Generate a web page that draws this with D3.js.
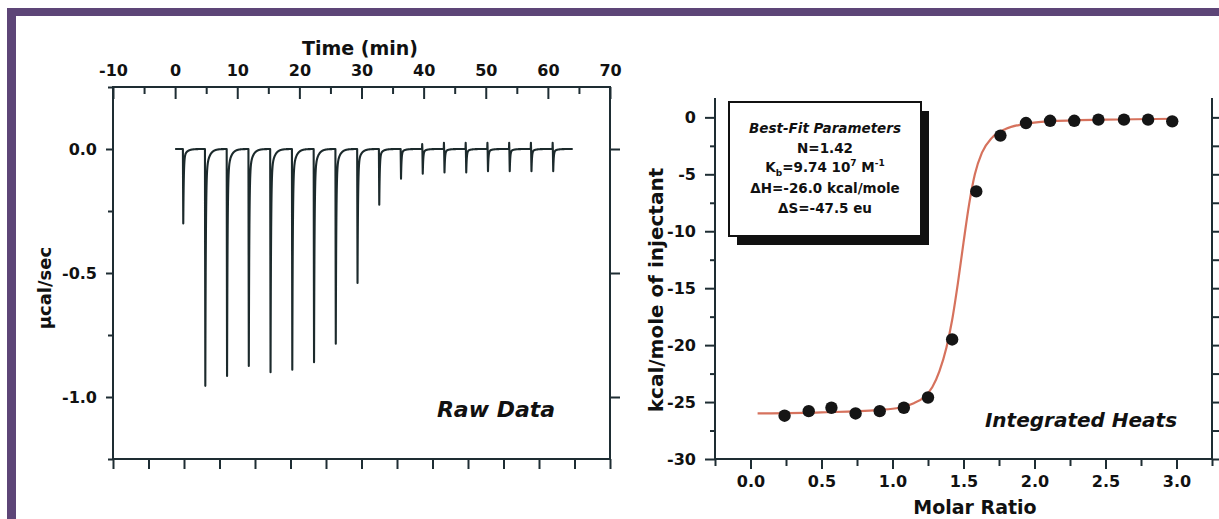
<!DOCTYPE html>
<html>
<head>
<meta charset="utf-8">
<script src="https://cdn.jsdelivr.net/npm/d3@7/dist/d3.min.js"></script>
<style>
  body { margin: 0; background: #fff; }
  svg { display: block; font-family: "DejaVu Sans", sans-serif; font-weight: bold; }
</style>
</head>
<body>
<svg id="chart" width="1219" height="519"></svg>
<script>
// ---------- data ----------
// raw data: injection times (min), peak depth (ucal/sec), small up-blip before each injection
var injTimes = [1.25, 4.8, 8.3, 11.8, 15.3, 18.8, 22.3, 25.8, 29.3, 32.8, 36.3, 39.8, 43.3, 46.8, 50.3, 53.8, 57.3, 60.8];
var injDepth = [-0.30, -0.955, -0.915, -0.875, -0.90, -0.89, -0.86, -0.785, -0.54, -0.225, -0.12, -0.10, -0.095, -0.095, -0.09, -0.09, -0.09, -0.09];
var injBlip  = [0, 0, 0, 0, 0, 0, 0, 0, 0, 0, 0, 0.02, 0.025, 0.025, 0.025, 0.025, 0.025, 0.025];
var traceStart = 0, traceEnd = 64;

// integrated heats
var molarRatio = [0.24, 0.41, 0.57, 0.74, 0.91, 1.08, 1.25, 1.42, 1.59, 1.76, 1.94, 2.11, 2.28, 2.45, 2.63, 2.80, 2.97];
var heats      = [-26.2, -25.8, -25.5, -26.0, -25.8, -25.5, -24.6, -19.5, -6.5, -1.6, -0.5, -0.3, -0.3, -0.2, -0.2, -0.2, -0.35];

// fit curve
var fitX = [0.05, 0.5, 0.9, 1.05, 1.15, 1.22, 1.28, 1.33, 1.38, 1.42, 1.46, 1.50, 1.54, 1.58, 1.63, 1.70, 1.80, 1.92, 2.1, 2.5, 3.0];
var fitY = [-26.0, -25.9, -25.7, -25.5, -25.1, -24.6, -23.7, -22.3, -20.2, -17.8, -14.6, -11.0, -7.6, -5.0, -3.1, -1.8, -1.0, -0.6, -0.35, -0.2, -0.12];

var timeTicks  = [-10, 0, 10, 20, 30, 40, 50, 60, 70];
var timeMinor  = [-5, 5, 15, 25, 35, 45, 55, 65];
var rawTicks   = [0, -0.5, -1.0];
var rawMinor   = [0.25, -0.25, -0.75, -1.25];
var heatTicks  = [0, -5, -10, -15, -20, -25, -30];
var heatMinor  = [-2.5, -7.5, -12.5, -17.5, -22.5, -27.5];
var ratioTicks = [0, 0.5, 1.0, 1.5, 2.0, 2.5, 3.0];
var ratioMinor = [-0.25, 0.25, 0.75, 1.25, 1.75, 2.25, 2.75, 3.25];

var fitParams = ["N=1.42", "Kb", "\u0394H=-26.0 kcal/mole", "\u0394S=-47.5 eu"];

// ---------- setup ----------
var svg = d3.select("#chart");
var axisColor = "#1e2d33";
var purple = "#5d4577";

// purple frame of the figure
svg.append("rect").attr("x", 7).attr("y", 8).attr("width", 1212).attr("height", 8).attr("fill", purple);
svg.append("rect").attr("x", 7).attr("y", 8).attr("width", 9).attr("height", 511).attr("fill", purple);

function styleAxis(g) {
  g.select(".domain").remove();
  g.selectAll("line").attr("stroke", axisColor).attr("stroke-width", 2);
  g.selectAll("text").attr("fill", "#111").style("font-size", "16px").style("font-weight", "bold")
    .style("font-family", "'DejaVu Sans', sans-serif");
}

//--------------------------------- raw data panel ---------------------------------//
var xL = d3.scaleLinear().domain([-10, 70]).range([113, 610]);
var yL = d3.scaleLinear().domain([-1.25, 0.25]).range([459, 87]);
var xLb = d3.scaleLinear().domain([0, 14]).range([113, 610]); // unlabeled bottom ticks

svg.append("g").attr("transform", "translate(0,87)")
  .call(d3.axisTop(xL).tickValues(timeTicks).tickSize(-12).tickPadding(11).tickFormat(function(d){ return String(d); }))
  .call(styleAxis);
svg.append("g").attr("transform", "translate(0,87)")
  .call(d3.axisTop(xL).tickValues(timeMinor).tickSize(-7).tickFormat(""))
  .call(styleAxis);
svg.append("g").attr("transform", "translate(0,459)")
  .call(d3.axisBottom(xLb).ticks(14).tickSize(10).tickFormat(""))
  .call(styleAxis);
svg.append("g").attr("transform", "translate(113,0)")
  .call(d3.axisLeft(yL).tickValues(rawTicks).tickSize(7).tickPadding(9).tickFormat(function(d){ return d.toFixed(1); }))
  .call(styleAxis);
svg.append("g").attr("transform", "translate(113,0)")
  .call(d3.axisLeft(yL).tickValues(rawMinor).tickSize(5).tickFormat(""))
  .call(styleAxis);
svg.append("g").attr("transform", "translate(610,0)")
  .call(d3.axisLeft(yL).tickValues(rawTicks).tickSize(-10).tickFormat(""))
  .call(styleAxis);

svg.append("rect")
  .attr("x", xL(-10)).attr("y", yL(0.25))
  .attr("width", xL(70) - xL(-10)).attr("height", yL(-1.25) - yL(0.25))
  .attr("fill", "none").attr("stroke", axisColor).attr("stroke-width", 2);

// build the thermogram from the injection list
var trace = [[traceStart, 0]];
injTimes.forEach(function(t, i) {
  if (injBlip[i] > 0) {
    trace.push([t - 0.06, 0]);
    trace.push([t - 0.03, injBlip[i]]);
  }
  trace.push([t, 0]);
  trace.push([t + 0.06, injDepth[i]]);
  var next = i < injTimes.length - 1 ? injTimes[i + 1] : traceEnd;
  for (var s = 0.02; t + 0.06 + s < next - 0.08; s += 0.02) {
    trace.push([t + 0.06 + s, injDepth[i] * (0.88 * Math.exp(-s / 0.08) + 0.12 * Math.exp(-s / 0.5))]);
  }
});
trace.push([traceEnd, 0]);

svg.append("path").datum(trace)
  .attr("fill", "none").attr("stroke", "#1c2a2c").attr("stroke-width", 2.1)
  .attr("stroke-linejoin", "round")
  .attr("d", d3.line().x(function(d){ return xL(d[0]); }).y(function(d){ return yL(d[1]); }));

svg.append("text").attr("x", 360).attr("y", 55).attr("text-anchor", "middle")
  .style("font-size", "19px").attr("fill", "#111").text("Time (min)");
svg.append("text").attr("transform", "translate(51,288) rotate(-90)").attr("text-anchor", "middle")
  .style("font-size", "18px").attr("fill", "#111").text("\u00b5cal/sec");
svg.append("text").attr("x", 496).attr("y", 417).attr("text-anchor", "middle")
  .style("font-size", "22px").style("font-style", "italic").attr("fill", "#111").text("Raw Data");

//--------------------------------- integrated heats panel ---------------------------------//
var xR = d3.scaleLinear().domain([-0.25, 3.25]).range([715, 1212]);
var yR = d3.scaleLinear().domain([-30, 1.7]).range([459, 98]);

svg.append("g").attr("transform", "translate(0,459)")
  .call(d3.axisBottom(xR).tickValues(ratioTicks).tickSize(10).tickPadding(7).tickFormat(function(d){ return d.toFixed(1); }))
  .call(styleAxis);
svg.append("g").attr("transform", "translate(0,459)")
  .call(d3.axisBottom(xR).tickValues(ratioMinor).tickSize(7).tickFormat(""))
  .call(styleAxis);
svg.append("g").attr("transform", "translate(715,0)")
  .call(d3.axisLeft(yR).tickValues(heatTicks).tickSize(10).tickPadding(9).tickFormat(function(d){ return String(d); }))
  .call(styleAxis);
svg.append("g").attr("transform", "translate(715,0)")
  .call(d3.axisLeft(yR).tickValues(heatMinor).tickSize(5).tickFormat(""))
  .call(styleAxis);
svg.append("g").attr("transform", "translate(1212,0)")
  .call(d3.axisLeft(yR).tickValues(heatTicks.concat(heatMinor)).tickSize(-9).tickFormat(""))
  .call(styleAxis);

// left, right and bottom lines of the frame (no top line)
svg.append("path")
  .attr("d", "M" + xR(-0.25) + "," + yR(1.7) + "V" + yR(-30) + "H" + xR(3.25) + "V" + yR(1.7))
  .attr("fill", "none").attr("stroke", axisColor).attr("stroke-width", 2);

var fitData = fitX.map(function(x, i){ return [x, fitY[i]]; });
svg.append("path").datum(fitData)
  .attr("fill", "none").attr("stroke", "#d6725d").attr("stroke-width", 2.2)
  .attr("d", d3.line().curve(d3.curveMonotoneX)
    .x(function(d){ return xR(d[0]); }).y(function(d){ return yR(d[1]); }));

svg.selectAll("circle.heat").data(molarRatio).enter().append("circle")
  .attr("class", "heat")
  .attr("cx", function(d){ return xR(d); })
  .attr("cy", function(d, i){ return yR(heats[i]); })
  .attr("r", 6.2).attr("fill", "#151515");

// best-fit parameters box with drop shadow
var bx = 729, by = 102, bw = 192, bh = 134;
svg.append("rect").attr("x", bx + 8).attr("y", by + 9).attr("width", bw).attr("height", bh).attr("fill", "#111");
svg.append("rect").attr("x", bx).attr("y", by).attr("width", bw).attr("height", bh)
  .attr("fill", "#fff").attr("stroke", "#111").attr("stroke-width", 2);

var bcx = bx + bw / 2;
svg.append("text").attr("x", bcx).attr("y", 133).attr("text-anchor", "middle")
  .style("font-size", "13.5px").style("font-style", "italic").attr("fill", "#111").text("Best-Fit Parameters");
var lineY = [153, 172, 193, 213];
fitParams.forEach(function(p, i) {
  var t = svg.append("text").attr("x", bcx).attr("y", lineY[i]).attr("text-anchor", "middle")
    .style("font-size", "13.5px").attr("fill", "#111");
  if (p == "Kb") {
    t.append("tspan").text("K");
    t.append("tspan").attr("dy", 4).style("font-size", "9px").text("b");
    t.append("tspan").attr("dy", -4).text("=9.74 10");
    t.append("tspan").attr("dy", -6).style("font-size", "9px").text("7");
    t.append("tspan").attr("dy", 6).text(" M");
    t.append("tspan").attr("dy", -6).style("font-size", "9px").text("-1");
  } else {
    t.text(p);
  }
});

svg.append("text").attr("x", 1081).attr("y", 427).attr("text-anchor", "middle")
  .style("font-size", "20px").style("font-style", "italic").attr("fill", "#111").text("Integrated Heats");
svg.append("text").attr("transform", "translate(663,290) rotate(-90)").attr("text-anchor", "middle")
  .style("font-size", "20px").attr("fill", "#111").text("kcal/mole of injectant");
svg.append("text").attr("x", 975).attr("y", 514).attr("text-anchor", "middle")
  .style("font-size", "19px").attr("fill", "#111").text("Molar Ratio");
</script>
</body>
</html>
